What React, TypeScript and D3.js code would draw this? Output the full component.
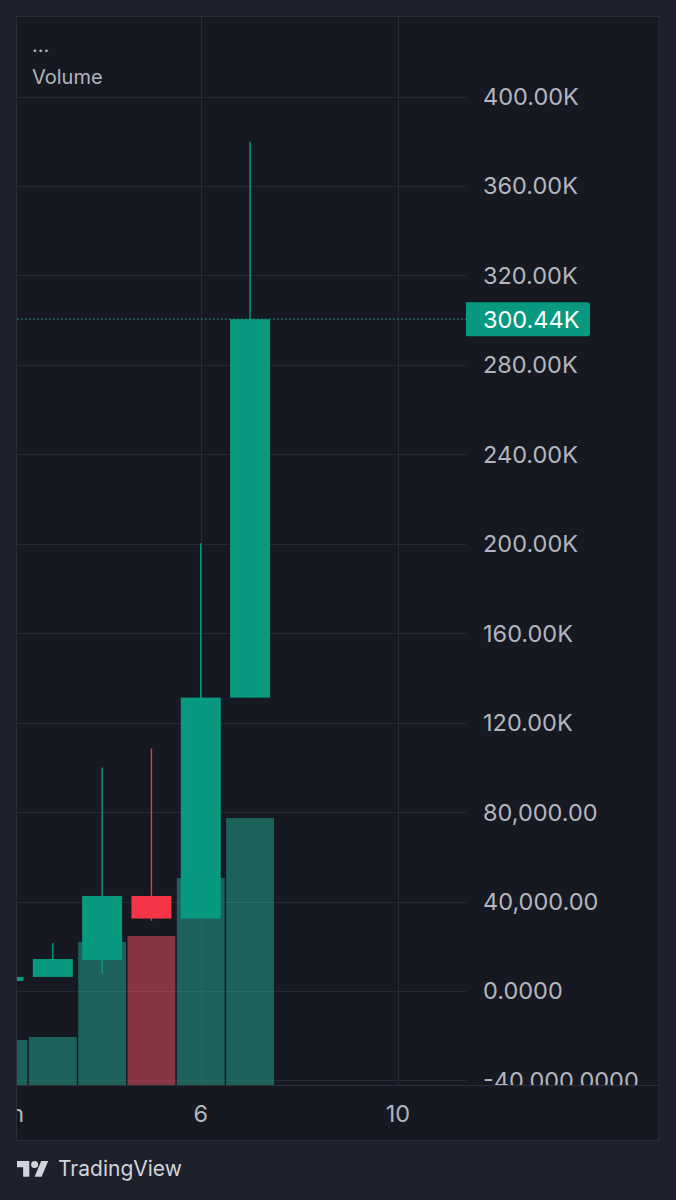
import React from "react";
import * as d3 from "d3";

// ---------- data ----------
const days = [2, 3, 4, 5, 6, 7];
const opens = [4500, 6300, 13900, 42500, 32400, 131200];
const closes = [6300, 14300, 42500, 32400, 131200, 300440];
const highs = [6300, 21500, 99900, 108400, 200200, 379800];
const lows = [4500, 6300, 7600, 31400, 32400, 131200];
const volumes = [4.5, 4.8, 14.3, 14.9, 20.7, 26.7];

const priceTicks = [-40000, 0, 40000, 80000, 120000, 160000, 200000, 240000, 280000, 320000, 360000, 400000];
const priceTickLabels = [
  "-40,000.0000",
  "0.0000",
  "40,000.00",
  "80,000.00",
  "120.00K",
  "160.00K",
  "200.00K",
  "240.00K",
  "280.00K",
  "320.00K",
  "360.00K",
  "400.00K",
];
const timeTicks = [2, 6, 10];
const timeTickLabels = ["Jun", "6", "10"];
const lastPriceLabel = "300.44K";
const lastPrice = 300440;

// ---------- style ----------
const W = 676;
const H = 1200;
const outerBg = "#1e212b";
const panelBg = "#161922";
const gridColor = "#262a35";
const borderColor = "#2a2e39";
const textColor = "#b2b5be";
const up = "#089981";
const down = "#f23645";
const upVol = "rgba(34,171,148,0.5)";
const downVol = "rgba(247,82,95,0.5)";
const font = "Inter, 'Noto Sans', sans-serif";

const panelL = 17;
const panelR = 658.5;
const panelT = 17;
const panelB = 1140;
const plotR = 466;
const plotB = 1085;

export default function App() {
  const x = d3.scaleLinear().domain([2, 10]).range([3.5, 398]);
  const step = x(3) - x(2);
  const y = d3.scaleLinear().domain([0, 400000]).range([991, 96.5]);
  const yVol = d3.scaleLinear().domain([0, 32]).range([plotB, plotB - 320]);
  const bodyW = 40;
  const volW = step - 1.5;
  const axisFont = 23.5;

  return (
    <svg
      width={W}
      height={H}
      style={{ position: "absolute", left: 0, top: 0, display: "block" }}
      fontFamily={font}
    >
      <defs>
        <clipPath id="plotClip">
          <rect x={panelL} y={panelT} width={plotR - panelL} height={plotB - panelT} />
        </clipPath>
        <clipPath id="axisClip">
          <rect x={plotR} y={panelT} width={panelR - plotR} height={plotB - panelT} />
        </clipPath>
        <clipPath id="timeClip">
          <rect x={panelL} y={plotB} width={panelR - panelL} height={panelB - plotB} />
        </clipPath>
      </defs>
      <rect x={0} y={0} width={W} height={H} fill={outerBg} />
      <rect
        x={panelL - 0.5}
        y={panelT - 0.5}
        width={panelR - panelL + 1}
        height={panelB - panelT + 1}
        fill={panelBg}
        stroke={borderColor}
        strokeWidth={1}
      />

      {/* grid */}
      <g clipPath="url(#plotClip)">
        {priceTicks.map((t) => (
          <line
            key={"h" + t}
            x1={panelL}
            x2={plotR}
            y1={Math.round(y(t)) + 0.5}
            y2={Math.round(y(t)) + 0.5}
            stroke={gridColor}
            strokeWidth={1}
          />
        ))}
        {timeTicks.map((t) => (
          <line
            key={"v" + t}
            x1={Math.round(x(t)) + 0.5}
            x2={Math.round(x(t)) + 0.5}
            y1={panelT}
            y2={plotB}
            stroke={gridColor}
            strokeWidth={1}
          />
        ))}
      </g>

      {/* volume */}
      <g clipPath="url(#plotClip)">
        {days.map((d, i) => (
          <rect
            key={"vol" + d}
            x={x(d) - volW / 2}
            y={yVol(volumes[i])}
            width={volW}
            height={yVol(0) - yVol(volumes[i])}
            fill={closes[i] >= opens[i] ? upVol : downVol}
          />
        ))}
      </g>

      {/* candles */}
      <g clipPath="url(#plotClip)">
        {days.map((d, i) => {
          const c = closes[i] >= opens[i] ? up : down;
          const top = y(Math.max(opens[i], closes[i]));
          const bot = y(Math.min(opens[i], closes[i]));
          return (
            <g key={"c" + d}>
              <line
                x1={x(d)}
                x2={x(d)}
                y1={y(highs[i])}
                y2={y(lows[i])}
                stroke={c}
                strokeWidth={1.4}
              />
              <rect
                x={x(d) - bodyW / 2}
                y={top}
                width={bodyW}
                height={Math.max(1, bot - top)}
                fill={c}
              />
            </g>
          );
        })}
        {/* last price line */}
        <line
          x1={panelL}
          x2={plotR}
          y1={y(lastPrice)}
          y2={y(lastPrice)}
          stroke={up}
          strokeWidth={1.3}
          strokeDasharray="1.5,2.5"
        />
      </g>

      {/* price axis labels */}
      <g clipPath="url(#axisClip)">
        {priceTicks.map((t, i) => (
          <text
            key={"pl" + t}
            x={483}
            y={y(t)}
            dy="0.36em"
            fill={textColor}
            fontSize={axisFont}
          >
            {priceTickLabels[i]}
          </text>
        ))}
      </g>

      {/* last price badge */}
      <path
        d={`M${plotR},${y(lastPrice) - 17} H${587} Q590,${y(lastPrice) - 17} 590,${y(lastPrice) - 14} V${y(lastPrice) + 14} Q590,${y(lastPrice) + 17} ${587},${y(lastPrice) + 17} H${plotR} Z`}
        fill={up}
      />
      <text x={483} y={y(lastPrice)} dy="0.36em" fill="#ffffff" fontSize={axisFont}>
        {lastPriceLabel}
      </text>

      {/* time axis */}
      <line x1={panelL} x2={panelR} y1={plotB + 0.5} y2={plotB + 0.5} stroke={borderColor} strokeWidth={1} />
      <g clipPath="url(#timeClip)">
        {timeTicks.map((t, i) => (
          <text
            key={"tl" + t}
            x={x(t)}
            y={1114}
            dy="0.36em"
            textAnchor="middle"
            fill={textColor}
            fontSize={axisFont}
          >
            {timeTickLabels[i]}
          </text>
        ))}
      </g>

      {/* legend */}
      <text x={32} y={52} fill={textColor} fontSize={20}>
        ...
      </text>
      <text x={32} y={77} dy="0.36em" fill={textColor} fontSize={20}>
        Volume
      </text>

      {/* TradingView logo */}
      <g transform={`translate(17, ${1161 - 4 * 0.88}) scale(0.88)`} fill="#d1d4dc">
        <path d="M14 22H7V11H0V4h14v18zM28 22h-8l7.5-18h8L28 22z" />
        <circle cx={20} cy={8} r={4} />
      </g>
      <text x={58} y={1176} fill="#d1d4dc" fontSize={21}>
        TradingView
      </text>
    </svg>
  );
}
